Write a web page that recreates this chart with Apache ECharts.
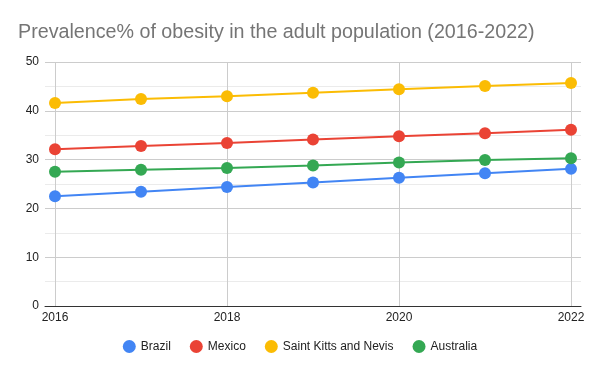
<!DOCTYPE html>
<html><head><meta charset="utf-8">
<script src="https://cdn.jsdelivr.net/npm/echarts@6/dist/echarts.min.js"></script>
<style>html,body{margin:0;padding:0;background:#fff}#c{width:600px;height:371px}</style>
</head><body><div id="c"></div>
<script>
const years = [2016, 2017, 2018, 2019, 2020, 2021, 2022];
const xTicks = [2016, 2018, 2020, 2022];
const brazil = [22.5, 23.4, 24.4, 25.3, 26.3, 27.2, 28.1];
const mexico = [32.1, 32.8, 33.4, 34.1, 34.8, 35.4, 36.1];
const saintKitts = [41.6, 42.4, 43.0, 43.7, 44.4, 45.1, 45.7];
const australia = [27.5, 27.9, 28.3, 28.8, 29.4, 29.9, 30.3];
const yTicks = [0, 10, 20, 30, 40, 50];

const names = ['Brazil','Mexico','Saint Kitts and Nevis','Australia'];
const colors = ['#4285F4','#EA4335','#FBBC04','#34A853'];
const datas = [brazil, mexico, saintKitts, australia];
const FF = '"Liberation Sans", Arial, sans-serif';
const pad = 10 / 86;

const chart = echarts.init(document.getElementById('c'));
chart.setOption({
  animation: false,
  title: {
    text: 'Prevalence% of obesity in the adult population (2016-2022)',
    left: 13, top: 18,
    textStyle: {color: '#757575', fontSize: 19.7, fontWeight: 'normal', fontFamily: FF}
  },
  legend: {
    bottom: 13, left: 'center',
    icon: 'circle', itemWidth: 13, itemHeight: 13, itemGap: 19,
    textStyle: {color: '#222', fontSize: 12, fontFamily: FF},
    data: names
  },
  grid: {left: 45, right: 19, top: 62, bottom: 65},
  xAxis: {
    type: 'value', min: years[0] - pad, max: years[years.length-1] + pad,
    axisLine: {show: true, onZero: false, lineStyle: {color: '#333'}},
    axisTick: {show: false, customValues: xTicks},
    axisLabel: {customValues: xTicks, color: '#222', fontSize: 12, margin: 6, fontFamily: FF,
      formatter: v => String(v)},
    splitLine: {show: true, lineStyle: {color: '#ccc'}}
  },
  yAxis: {
    type: 'value', min: yTicks[0], max: yTicks[yTicks.length-1], interval: 10,
    axisLine: {show: false}, axisTick: {show: false},
    axisLabel: {color: '#222', fontSize: 12, margin: 6, fontFamily: FF},
    splitLine: {lineStyle: {color: '#ccc'}},
    minorTick: {show: false, splitNumber: 2},
    minorSplitLine: {show: true, lineStyle: {color: '#ebebeb'}}
  },
  series: names.map((n, i) => ({
    name: n, type: 'line', data: years.map((y, j) => [y, datas[i][j]]),
    symbol: 'circle', symbolSize: 12,
    itemStyle: {color: colors[i]},
    lineStyle: {color: colors[i], width: 2}
  }))
});
</script></body></html>
